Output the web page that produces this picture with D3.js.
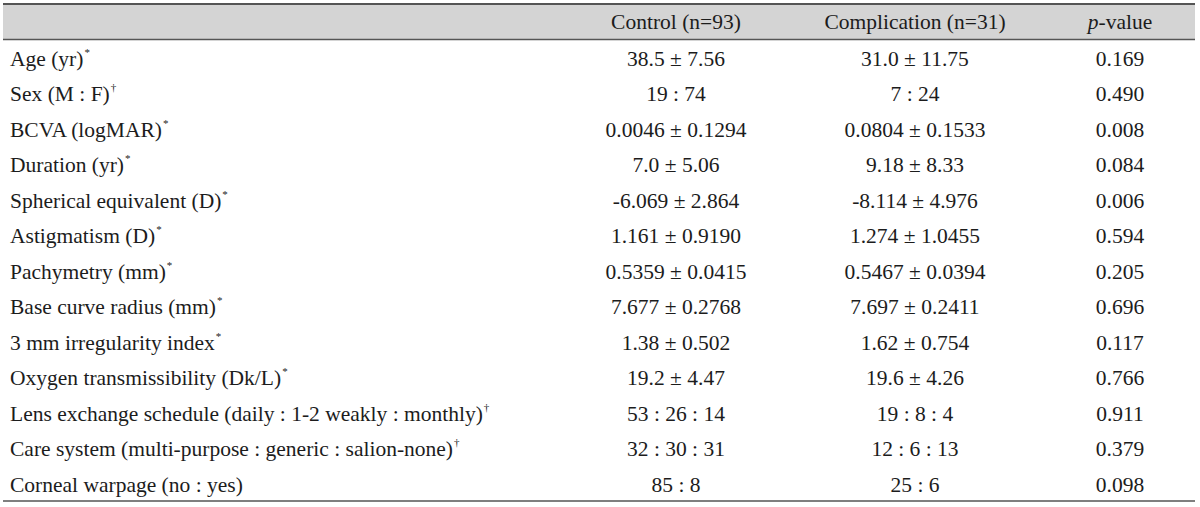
<!DOCTYPE html>
<html>
<head>
<meta charset="utf-8">
<title>Patient characteristics table</title>
<script src="https://cdnjs.cloudflare.com/ajax/libs/d3/7.8.5/d3.min.js"></script>
<style>
  body { margin: 0; background: #fff; }
  text { font-family: "Liberation Serif", "Times New Roman", serif; fill: #1c1c1c; }
</style>
</head>
<body>
<div id="container"></div>
<script>
// ---- data ----
const headers = ["", "Control (n=93)", "Complication (n=31)", "p-value"];
const labels = [
  "Age (yr)", "Sex (M : F)", "BCVA (logMAR)", "Duration (yr)",
  "Spherical equivalent (D)", "Astigmatism (D)", "Pachymetry (mm)",
  "Base curve radius (mm)", "3 mm irregularity index",
  "Oxygen transmissibility (Dk/L)",
  "Lens exchange schedule (daily : 1-2 weakly : monthly)",
  "Care system (multi-purpose : generic : salion-none)",
  "Corneal warpage (no : yes)"
];
const marks = ["*", "\u2020", "*", "*", "*", "*", "*", "*", "*", "*", "\u2020", "\u2020", ""];
const control = [
  "38.5 \u00b1 7.56", "19 : 74", "0.0046 \u00b1 0.1294", "7.0 \u00b1 5.06",
  "-6.069 \u00b1 2.864", "1.161 \u00b1 0.9190", "0.5359 \u00b1 0.0415",
  "7.677 \u00b1 0.2768", "1.38 \u00b1 0.502", "19.2 \u00b1 4.47",
  "53 : 26 : 14", "32 : 30 : 31", "85 : 8"
];
const complication = [
  "31.0 \u00b1 11.75", "7 : 24", "0.0804 \u00b1 0.1533", "9.18 \u00b1 8.33",
  "-8.114 \u00b1 4.976", "1.274 \u00b1 1.0455", "0.5467 \u00b1 0.0394",
  "7.697 \u00b1 0.2411", "1.62 \u00b1 0.754", "19.6 \u00b1 4.26",
  "19 : 8 : 4", "12 : 6 : 13", "25 : 6"
];
const pvalues = [
  "0.169", "0.490", "0.008", "0.084", "0.006", "0.594", "0.205",
  "0.696", "0.117", "0.766", "0.911", "0.379", "0.098"
];

// ---- layout ----
const width = 1200, height = 507;
const fontSize = 21.5;
const xLeft = 3, xRight = 1195;
const yTop = 4, yHead = 39.5, yBottom = 501;

const svg = d3.select("#container").append("svg")
    .attr("width", width)
    .attr("height", height);

const y = d3.scaleBand()
    .domain(d3.range(labels.length))
    .range([yHead, yBottom]);

const colX = d3.scaleOrdinal()
    .domain(["control", "complication", "p"])
    .range([676, 915, 1120]);

// header band
svg.append("rect")
    .attr("x", xLeft).attr("y", yTop)
    .attr("width", xRight - xLeft).attr("height", yHead - yTop)
    .attr("fill", "#d4d4d4");

const hy = yTop + (yHead - yTop) / 2 + 7;
svg.append("text")
    .attr("x", colX("control")).attr("y", hy)
    .attr("text-anchor", "middle").attr("font-size", fontSize)
    .text(headers[1]);
svg.append("text")
    .attr("x", colX("complication")).attr("y", hy)
    .attr("text-anchor", "middle").attr("font-size", fontSize)
    .text(headers[2]);
const ph = svg.append("text")
    .attr("x", colX("p")).attr("y", hy)
    .attr("text-anchor", "middle").attr("font-size", fontSize);
ph.append("tspan").attr("font-style", "italic").text("p");
ph.append("tspan").text("-value");

// rules
[[yTop, 2], [yHead, 1.5], [yBottom, 1.5]].forEach(function(r) {
  svg.append("line")
      .attr("x1", xLeft).attr("x2", xRight)
      .attr("y1", r[0]).attr("y2", r[0])
      .attr("stroke", "#555")
      .attr("stroke-width", r[1]);
});

// rows
const rows = svg.selectAll("g.row")
    .data(labels)
    .enter()
    .append("g")
    .attr("class", "row")
    .attr("transform", function(d, i) {
      return "translate(0," + (y(i) + y.bandwidth() / 2 + 8.5) + ")";
    });

const lab = rows.append("text")
    .attr("x", 10)
    .attr("font-size", fontSize);
lab.append("tspan").text(function(d) { return d; });
lab.append("tspan")
    .attr("font-size", 11)
    .attr("dx", 1)
    .attr("dy", -10)
    .text(function(d, i) { return marks[i]; });

rows.append("text")
    .attr("x", colX("control"))
    .attr("text-anchor", "middle")
    .attr("font-size", fontSize)
    .text(function(d, i) { return control[i]; });

rows.append("text")
    .attr("x", colX("complication"))
    .attr("text-anchor", "middle")
    .attr("font-size", fontSize)
    .text(function(d, i) { return complication[i]; });

rows.append("text")
    .attr("x", colX("p"))
    .attr("text-anchor", "middle")
    .attr("font-size", fontSize)
    .text(function(d, i) { return pvalues[i]; });
</script>
</body>
</html>
